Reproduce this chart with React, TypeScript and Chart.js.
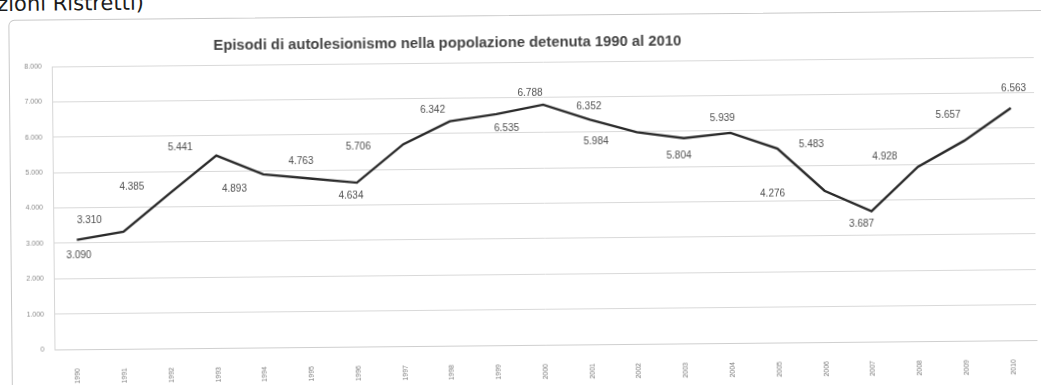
import React, { useEffect, useRef } from "react";
import { Chart, registerables } from "chart.js";

Chart.register(...registerables);

const headerText = "zioni Ristretti)";
const chartTitle = "Episodi di autolesionismo nella popolazione detenuta 1990 al 2010";

const years = [
  "1990", "1991", "1992", "1993", "1994", "1995", "1996", "1997", "1998", "1999", "2000",
  "2001", "2002", "2003", "2004", "2005", "2006", "2007", "2008", "2009", "2010",
];

const episodes = [
  3090, 3310, 4385, 5441, 4893, 4763, 4634, 5706, 6342, 6535, 6788,
  6352, 5984, 5804, 5939, 5483, 4276, 3687, 4928, 5657, 6563,
];

const yTickValues = [0, 1000, 2000, 3000, 4000, 5000, 6000, 7000, 8000];

// pixel offsets of each value label relative to its point (layout only)
const labelOffsets: [number, number][] = [
  [2, 16], [-34, -12], [-38, -7], [-36, -8], [-29, 14], [-9, -17], [-6, 13],
  [-45, 2], [-17, -11], [10, 14], [-13, -12], [-1, -13], [-41, 9], [-5, 18],
  [-8, -15], [34, -4], [-52, 3], [-10, 13], [-33, -10], [-16, -26], [3, -20],
];

const fmt = (v: number) => String(v).replace(/\B(?=(\d{3})+(?!\d))/g, ".");

const titlePlugin = {
  id: "customTitle",
  afterDraw(chart: any) {
    const { ctx, chartArea } = chart;
    ctx.save();
    ctx.font = "bold 14.8px 'Liberation Sans', Arial, sans-serif";
    ctx.fillStyle = "#444444";
    ctx.textAlign = "center";
    ctx.textBaseline = "middle";
    const x = chartArea.left + (chartArea.right - chartArea.left) * 0.403;
    ctx.fillText(chartTitle, x, 43);
    ctx.restore();
  },
};

const valueLabelPlugin = {
  id: "valueLabels",
  afterDatasetsDraw(chart: any) {
    const { ctx } = chart;
    const meta = chart.getDatasetMeta(0);
    ctx.save();
    ctx.font = "10px 'Liberation Sans', Arial, sans-serif";
    ctx.fillStyle = "#505050";
    ctx.textAlign = "center";
    ctx.textBaseline = "middle";
    meta.data.forEach((pt: any, i: number) => {
      const [dx, dy] = labelOffsets[i] || [0, -12];
      ctx.fillText(fmt(episodes[i]), pt.x + dx, pt.y + dy);
    });
    ctx.restore();
  },
};

export default function App() {
  const canvasRef = useRef<HTMLCanvasElement | null>(null);

  useEffect(() => {
    if (!canvasRef.current) return;
    const chart = new Chart(canvasRef.current, {
      type: "line",
      data: {
        labels: years,
        datasets: [
          {
            label: chartTitle,
            data: episodes,
            borderColor: "#2a2a2a",
            borderWidth: 2.4,
            pointRadius: 0,
            tension: 0,
            fill: false,
          },
        ],
      },
      options: {
        animation: false,
        responsive: false,
        devicePixelRatio: 1,
        layout: { padding: { top: 62, left: 10, right: 6, bottom: 0 } },
        plugins: {
          legend: { display: false },
          title: { display: false },
          tooltip: { enabled: false },
        },
        scales: {
          x: {
            type: "category",
            offset: true,
            grid: { display: false },
            border: { display: true, color: "#cfcfcf", width: 1 },
            ticks: {
              minRotation: 90,
              maxRotation: 90,
              autoSkip: false,
              padding: 11,
              color: "#7a7a7a",
              font: { size: 7, family: "'Liberation Sans', Arial, sans-serif" },
            },
            afterFit: (s: any) => {
              s.height = 40;
            },
          },
          y: {
            min: 0,
            max: 8000,
            afterBuildTicks: (s: any) => {
              s.ticks = yTickValues.map((v) => ({ value: v }));
            },
            grid: { color: "#d9d9d9", lineWidth: 1, drawTicks: false },
            border: { display: true, color: "#d6d6d6" },
            ticks: {
              padding: 10,
              color: "#8a8a8a",
              font: { size: 7, family: "'Liberation Sans', Arial, sans-serif" },
              callback: (v: any) => fmt(Number(v)),
            },
            afterFit: (s: any) => {
              s.width = 43;
            },
          },
        },
      },
      plugins: [titlePlugin, valueLabelPlugin],
    });
    return () => chart.destroy();
  }, []);

  return (
    <div
      style={{
        position: "fixed",
        left: 0,
        top: 0,
        width: 1041,
        height: 385,
        overflow: "hidden",
        background: "#ffffff",
      }}
    >
      <div
        style={{
          position: "absolute",
          left: 0,
          top: 0,
          width: 1041,
          height: 385,
          transform: "rotate(-0.55deg)",
          transformOrigin: "520px 192px",
        }}
      >
        <div
          style={{
            position: "absolute",
            left: -1,
            top: -11,
            fontFamily: "'DejaVu Sans', sans-serif",
            fontSize: 21,
            lineHeight: "21px",
            color: "#1c1c1c",
            whiteSpace: "nowrap",
          }}
        >
          {headerText}
        </div>
        <div
          style={{
            position: "absolute",
            left: 10,
            top: 15,
            width: 1080,
            height: 420,
            border: "1px solid #c9c9c9",
            borderRadius: 6,
            boxSizing: "border-box",
          }}
        />
        <canvas
          ref={canvasRef}
          width={1041}
          height={385}
          style={{ position: "absolute", left: 0, top: 0, width: 1041, height: 385 }}
        />
      </div>
    </div>
  );
}
